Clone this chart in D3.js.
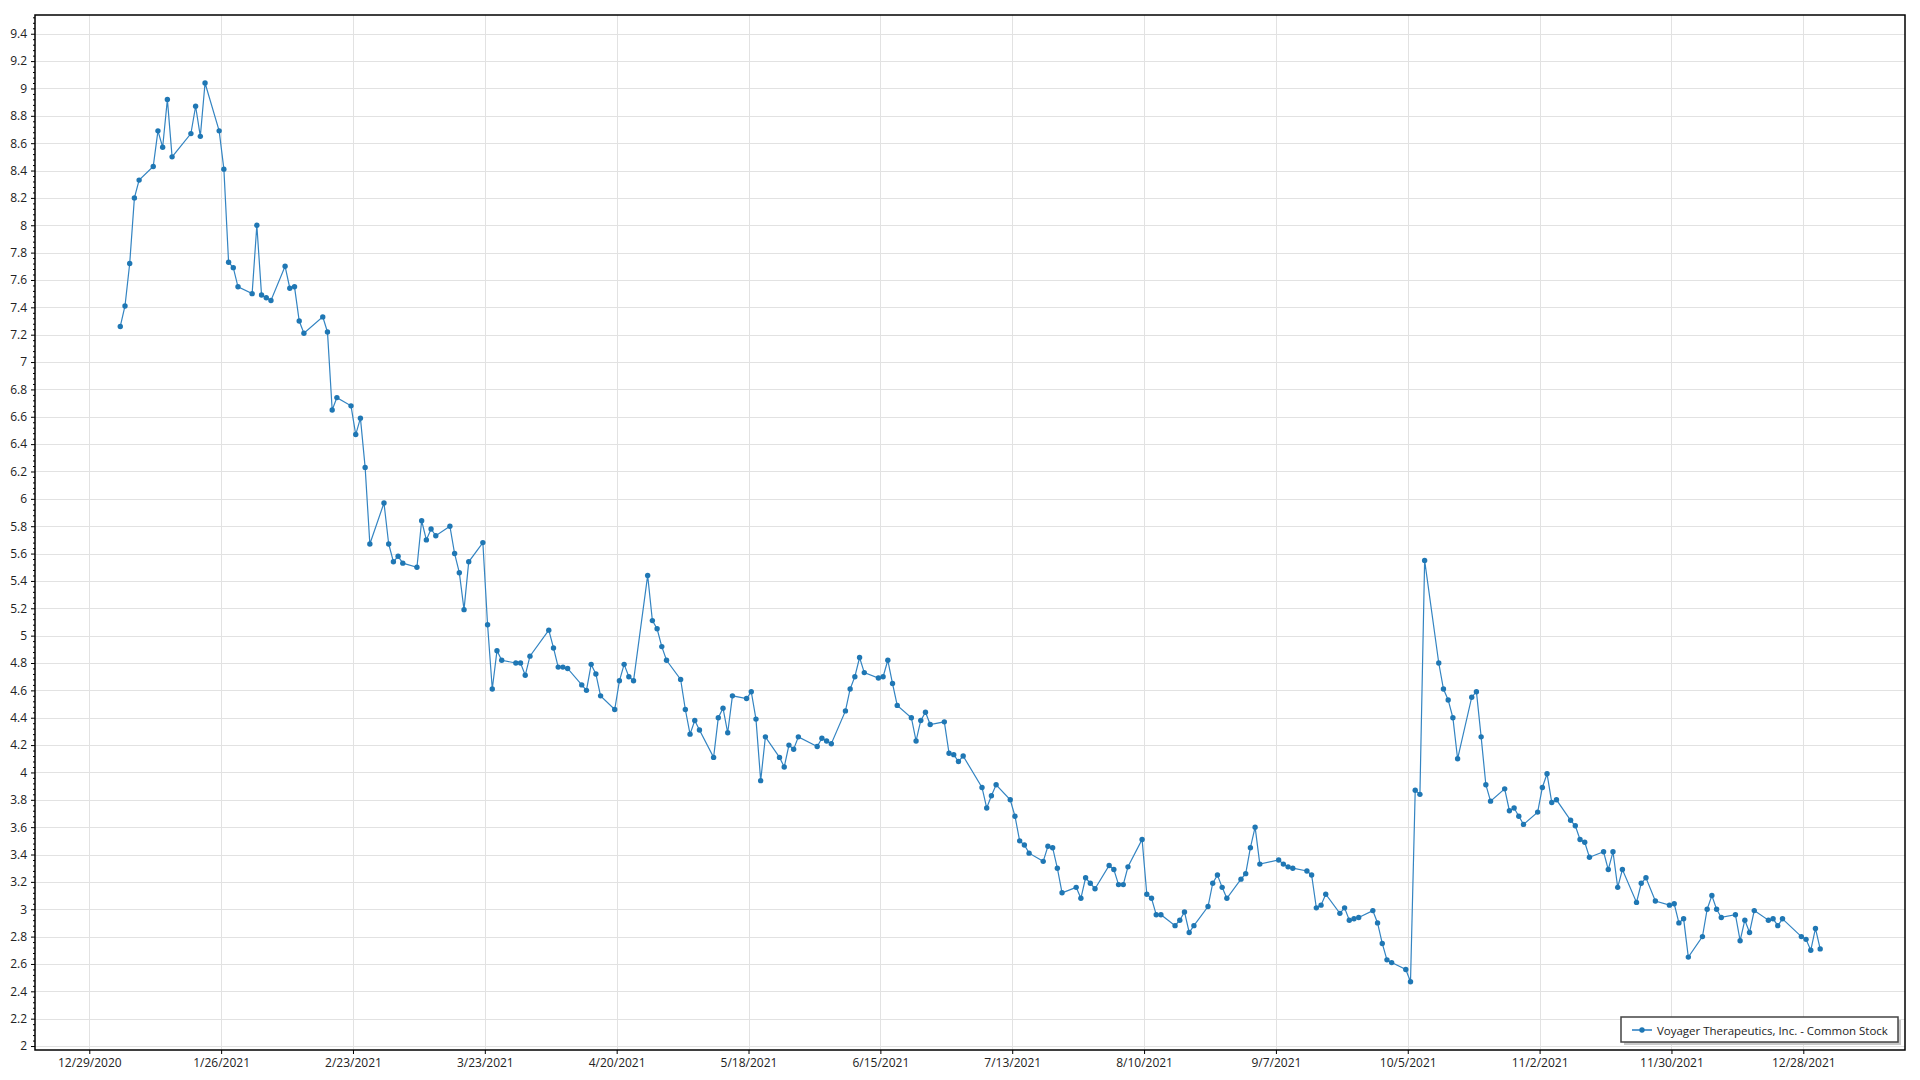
<!DOCTYPE html>
<html><head><meta charset="utf-8">
<script src="https://cdn.jsdelivr.net/npm/d3@7"></script>
<style>
html,body{margin:0;padding:0;background:#fff;}
svg text{font-family:"Segoe UI","Open Sans","Noto Sans",sans-serif;}
</style></head>
<body><svg id="chart" width="1920" height="1080"></svg>
<script>
const seriesName = "Voyager Therapeutics, Inc. - Common Stock";
const dates = [
"2021-01-04","2021-01-05","2021-01-06","2021-01-07","2021-01-08","2021-01-11","2021-01-12","2021-01-13","2021-01-14","2021-01-15",
"2021-01-19","2021-01-20","2021-01-21","2021-01-22","2021-01-25","2021-01-26","2021-01-27","2021-01-28","2021-01-29",
"2021-02-01","2021-02-02","2021-02-03","2021-02-04","2021-02-05","2021-02-08","2021-02-09","2021-02-10","2021-02-11","2021-02-12",
"2021-02-16","2021-02-17","2021-02-18","2021-02-19","2021-02-22","2021-02-23","2021-02-24","2021-02-25","2021-02-26",
"2021-03-01","2021-03-02","2021-03-03","2021-03-04","2021-03-05","2021-03-08","2021-03-09","2021-03-10","2021-03-11","2021-03-12",
"2021-03-15","2021-03-16","2021-03-17","2021-03-18","2021-03-19","2021-03-22","2021-03-23","2021-03-24","2021-03-25","2021-03-26",
"2021-03-29","2021-03-30","2021-03-31","2021-04-01",
"2021-04-05","2021-04-06","2021-04-07","2021-04-08","2021-04-09","2021-04-12","2021-04-13","2021-04-14","2021-04-15","2021-04-16",
"2021-04-19","2021-04-20","2021-04-21","2021-04-22","2021-04-23","2021-04-26","2021-04-27","2021-04-28","2021-04-29","2021-04-30",
"2021-05-03","2021-05-04","2021-05-05","2021-05-06","2021-05-07","2021-05-10","2021-05-11","2021-05-12","2021-05-13","2021-05-14",
"2021-05-17","2021-05-18","2021-05-19","2021-05-20","2021-05-21","2021-05-24","2021-05-25","2021-05-26","2021-05-27","2021-05-28",
"2021-06-01","2021-06-02","2021-06-03","2021-06-04","2021-06-07","2021-06-08","2021-06-09","2021-06-10","2021-06-11",
"2021-06-14","2021-06-15","2021-06-16","2021-06-17","2021-06-18","2021-06-21","2021-06-22","2021-06-23","2021-06-24","2021-06-25",
"2021-06-28","2021-06-29","2021-06-30","2021-07-01","2021-07-02",
"2021-07-06","2021-07-07","2021-07-08","2021-07-09","2021-07-12","2021-07-13","2021-07-14","2021-07-15","2021-07-16",
"2021-07-19","2021-07-20","2021-07-21","2021-07-22","2021-07-23","2021-07-26","2021-07-27","2021-07-28","2021-07-29","2021-07-30",
"2021-08-02","2021-08-03","2021-08-04","2021-08-05","2021-08-06","2021-08-09","2021-08-10","2021-08-11","2021-08-12","2021-08-13",
"2021-08-16","2021-08-17","2021-08-18","2021-08-19","2021-08-20","2021-08-23","2021-08-24","2021-08-25","2021-08-26","2021-08-27",
"2021-08-30","2021-08-31","2021-09-01","2021-09-02","2021-09-03",
"2021-09-07","2021-09-08","2021-09-09","2021-09-10","2021-09-13","2021-09-14","2021-09-15","2021-09-16","2021-09-17",
"2021-09-20","2021-09-21","2021-09-22","2021-09-23","2021-09-24","2021-09-27","2021-09-28","2021-09-29","2021-09-30","2021-10-01",
"2021-10-04","2021-10-05","2021-10-06","2021-10-07","2021-10-08","2021-10-11","2021-10-12","2021-10-13","2021-10-14","2021-10-15",
"2021-10-18","2021-10-19","2021-10-20","2021-10-21","2021-10-22","2021-10-25","2021-10-26","2021-10-27","2021-10-28","2021-10-29",
"2021-11-01","2021-11-02","2021-11-03","2021-11-04","2021-11-05","2021-11-08","2021-11-09","2021-11-10","2021-11-11","2021-11-12",
"2021-11-15","2021-11-16","2021-11-17","2021-11-18","2021-11-19","2021-11-22","2021-11-23","2021-11-24","2021-11-26",
"2021-11-29","2021-11-30","2021-12-01","2021-12-02","2021-12-03","2021-12-06","2021-12-07","2021-12-08","2021-12-09","2021-12-10",
"2021-12-13","2021-12-14","2021-12-15","2021-12-16","2021-12-17","2021-12-20","2021-12-21","2021-12-22","2021-12-23",
"2021-12-27","2021-12-28","2021-12-29","2021-12-30","2021-12-31"
];
const values = [
7.26,7.41,7.72,8.20,8.33,8.43,8.69,8.57,8.92,8.50,
8.67,8.87,8.65,9.04,8.69,8.41,7.73,7.69,7.55,
7.50,8.00,7.49,7.47,7.45,7.70,7.54,7.55,7.30,7.21,
7.33,7.22,6.65,6.74,6.68,6.47,6.59,6.23,5.67,
5.97,5.67,5.54,5.58,5.53,5.50,5.84,5.70,5.78,5.73,
5.80,5.60,5.46,5.19,5.54,5.68,5.08,4.61,4.89,4.82,
4.80,4.80,4.71,4.85,
5.04,4.91,4.77,4.77,4.76,4.64,4.60,4.79,4.72,4.56,
4.46,4.67,4.79,4.70,4.67,5.44,5.11,5.05,4.92,4.82,
4.68,4.46,4.28,4.38,4.31,4.11,4.40,4.47,4.29,4.56,
4.54,4.59,4.39,3.94,4.26,4.11,4.04,4.20,4.17,4.26,
4.19,4.25,4.23,4.21,4.45,4.61,4.70,4.84,4.73,
4.69,4.70,4.82,4.65,4.49,4.40,4.23,4.38,4.44,4.35,
4.37,4.14,4.13,4.08,4.12,
3.89,3.74,3.83,3.91,3.80,3.68,3.50,3.47,3.41,
3.35,3.46,3.45,3.30,3.12,3.16,3.08,3.23,3.19,3.15,
3.32,3.29,3.18,3.18,3.31,3.51,3.11,3.08,2.96,2.96,
2.88,2.92,2.98,2.83,2.88,3.02,3.19,3.25,3.16,3.08,
3.22,3.26,3.45,3.60,3.33,
3.36,3.33,3.31,3.30,3.28,3.25,3.01,3.03,3.11,
2.97,3.01,2.92,2.93,2.94,2.99,2.90,2.75,2.63,2.61,
2.56,2.47,3.87,3.84,5.55,4.80,4.61,4.53,4.40,4.10,
4.55,4.59,4.26,3.91,3.79,3.88,3.72,3.74,3.68,3.62,
3.71,3.89,3.99,3.78,3.80,3.65,3.61,3.51,3.49,3.38,
3.42,3.29,3.42,3.16,3.29,3.05,3.19,3.23,3.06,
3.03,3.04,2.90,2.93,2.65,2.80,3.00,3.10,3.00,2.94,
2.96,2.77,2.92,2.83,2.99,2.92,2.93,2.88,2.93,
2.80,2.78,2.70,2.86,2.71
];
const xTickLabels = ["12/29/2020","1/26/2021","2/23/2021","3/23/2021","4/20/2021","5/18/2021","6/15/2021",
  "7/13/2021","8/10/2021","9/7/2021","10/5/2021","11/2/2021","11/30/2021","12/28/2021"];
const yTicks = [2,2.2,2.4,2.6,2.8,3,3.2,3.4,3.6,3.8,4,4.2,4.4,4.6,4.8,5,5.2,5.4,5.6,5.8,6,6.2,6.4,6.6,6.8,7,7.2,7.4,7.6,7.8,8,8.2,8.4,8.6,8.8,9,9.2,9.4];

const svg = d3.select("#chart");
const L = 35, R = 1905, T = 15, B = 1050;

const parseTick = d3.timeParse("%m/%d/%Y");
const parseData = d3.timeParse("%Y-%m-%dT%H:%M");
const xTickDates = xTickLabels.map(parseTick);
const data = dates.map((d,i) => ({date: parseData(d + "T14:00"), value: values[i]}));

const x = d3.scaleTime()
  .domain([parseData("2020-12-17T11:20"), parseData("2022-01-18T14:20")])
  .range([L, R]);
const y = d3.scaleLinear().domain([1.971, 9.537]).range([B, T]);

// grid
const grid = svg.append("g");
grid.selectAll("line.h").data(yTicks).join("line")
  .attr("x1", L).attr("x2", R)
  .attr("y1", d => Math.round(y(d)) + 0.5).attr("y2", d => Math.round(y(d)) + 0.5)
  .attr("stroke", "#e2e2e2").attr("stroke-width", 1);
grid.selectAll("line.v").data(xTickDates).join("line")
  .attr("y1", T).attr("y2", B)
  .attr("x1", d => Math.round(x(d)) + 0.5).attr("x2", d => Math.round(x(d)) + 0.5)
  .attr("stroke", "#e2e2e2").attr("stroke-width", 1);

// frame
svg.append("rect").attr("x", L).attr("y", T).attr("width", R - L).attr("height", B - T)
  .attr("fill", "none").attr("stroke", "#000").attr("stroke-width", 1.5);

// y axis
const yAxis = svg.append("g").attr("transform", `translate(${L},0)`)
  .call(d3.axisLeft(y).tickValues(yTicks).tickSize(4).tickPadding(4)
    .tickFormat(d => String(+d.toFixed(1))));
yAxis.select(".domain").remove();
yAxis.selectAll("text").attr("font-size", 12).attr("fill", "#222")
  .style("font-family", '"Segoe UI","Open Sans","Noto Sans",sans-serif');
yAxis.selectAll("line").attr("stroke", "#000");
const minor = d3.range(0, 190).map(i => 2 + i * 0.04).filter(v => v < 9.53 && Math.abs(v*5 - Math.round(v*5)) > 1e-6);
const yMinor = svg.append("g").attr("transform", `translate(${L},0)`)
  .call(d3.axisLeft(y).tickValues(minor).tickSize(2).tickFormat(""));
yMinor.select(".domain").remove();
yMinor.selectAll("line").attr("stroke", "#000");

// x axis
const xAxis = svg.append("g").attr("transform", `translate(0,${B})`)
  .call(d3.axisBottom(x).tickValues(xTickDates).tickSize(4).tickPadding(4)
    .tickFormat((d,i) => xTickLabels[i]));
xAxis.select(".domain").remove();
xAxis.selectAll("text").attr("font-size", 12).attr("fill", "#222")
  .style("font-family", '"Segoe UI","Open Sans","Noto Sans",sans-serif');
xAxis.selectAll("line").attr("stroke", "#000");

// series
const line = d3.line().x(d => x(d.date)).y(d => y(d.value));
svg.append("path").datum(data).attr("d", line)
  .attr("fill", "none").attr("stroke", "#3384c2").attr("stroke-width", 1.2);
svg.append("g").selectAll("circle").data(data).join("circle")
  .attr("cx", d => x(d.date)).attr("cy", d => y(d.value)).attr("r", 2.7)
  .attr("fill", "#1f77b4");

// legend
const lg = svg.append("g");
const lx = 1621, ly = 1017, lw = 277, lh = 25;
lg.append("rect").attr("x", lx + 3).attr("y", ly + 3).attr("width", lw).attr("height", lh).attr("fill", "#c8c8c8");
lg.append("rect").attr("x", lx).attr("y", ly).attr("width", lw).attr("height", lh)
  .attr("fill", "#fff").attr("stroke", "#444").attr("stroke-width", 1.5);
lg.append("line").attr("x1", lx + 11).attr("x2", lx + 31).attr("y1", ly + 13).attr("y2", ly + 13)
  .attr("stroke", "#5a9bd0").attr("stroke-width", 2);
lg.append("circle").attr("cx", lx + 21).attr("cy", ly + 13).attr("r", 2.7).attr("fill", "#1f77b4");
const lt = lg.append("text").attr("x", lx + 36).attr("y", ly + 17.5).attr("font-size", 13)
  .attr("fill", "#222").text(seriesName);
const w = lt.node().getComputedTextLength();
if (w > 0) lt.attr("font-size", 13 * 231 / w);
</script></body></html>
